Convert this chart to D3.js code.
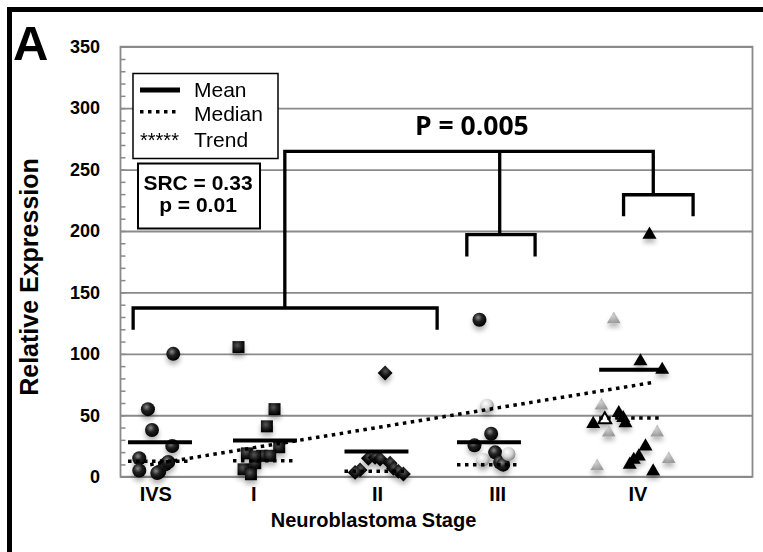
<!DOCTYPE html>
<html>
<head>
<meta charset="utf-8">
<script src="https://cdn.jsdelivr.net/npm/d3@7"></script>
<style>
  body { margin: 0; background: #fff; }
  svg { display: block; }
</style>
</head>
<body>
<svg id="chart"></svg>
<script>
// stage names and where they sit on the x axis (0-100 units)
const stages = ["IVS", "I", "II", "III", "IV"];
const stagePos = [5.5, 21.0, 40.6, 59.6, 81.8];

// points: [offset from stage position, relative expression]
const ivsPts = [[2.85, 100], [-1.16, 55], [-0.52, 38], [2.69, 25], [-2.53, 15], [-2.53, 5], [0.63, 4], [1.58, 10], [2.06, 12], [0.32, 3]];
const stageIPts = [[-2.33, 105.5], [3.37, 55], [2.17, 41], [4.11, 24], [-1.0, 19], [1.38, 17], [2.69, 17], [0.32, 11], [-1.53, 6], [-0.36, 2], [0.32, 16.5]];
const stageIIPts = [[1.27, 84.4], [-2.69, 5.5], [-3.48, 3.5], [-1.38, 15], [-0.32, 15.7], [0.47, 14.4], [2.06, 11], [2.58, 6.8], [3.37, 4.3], [4.16, 2.2]];
const stageIIIBlack = [[-2.8, 127.8], [-0.95, 35], [-3.59, 25.5], [-0.32, 19.8], [0.47, 11.6], [0.95, 9.8]];
const stageIIIWhite = [[-1.63, 57.8], [1.79, 18.5], [-2.26, 13.8]];
const stageIVBlack = [[1.9, 197], [0.47, 94], [3.91, 87], [-2.96, 51.8], [-7.0, 43], [-1.9, 43.6], [-2.26, 47.8], [1.27, 24.7], [0.21, 16.5], [-0.59, 13.8], [-1.22, 9.8], [2.48, 4.3]];
const stageIVGray = [[-3.75, 128], [-5.7, 57.8], [-4.54, 36], [3.12, 36], [4.95, 14.4], [-6.38, 8.4]];
const stageIVOpen = [[-5.17, 46.4]];

// mean / median per stage
const meanVals = [28, 29.5, 20.6, 28, 87];
const medianVals = [12.5, 13, 4.4, 9.8, 47.8];
const summaryOffset = [0.75, 1.86, -0.1, -1.3, -1.0];
const summaryHalf = 5.06;

// trend line [x, value]
const trendPts = [[4.7, 9.8], [84.6, 77]];

// significance brackets in data units
const brackets = [
  [[2.0, 119.6], [2.0, 137.3], [50.1, 137.3], [50.1, 119.6]],
  [[54.8, 179.3], [54.8, 197], [65.6, 197], [65.6, 179.3]],
  [[79.6, 211.9], [79.6, 229.5], [90.6, 229.5], [90.6, 211.9]],
  [[26.0, 137.3], [26.0, 264.8], [84.3, 264.8], [84.3, 229.5]],
  [[60.0, 264.8], [60.0, 197]]
];
const pLabel = [55.6, 278];

const yMajor = [0, 50, 100, 150, 200, 250, 300, 350];

const W = 763, H = 552;
const svg = d3.select("#chart").attr("width", W).attr("height", H);

const x = d3.scaleLinear().domain([0, 100]).range([120.5, 752.5]);
const y = d3.scaleLinear().domain([0, 350]).range([476.7, 46.7]);

const defs = svg.append("defs");
const sh = defs.append("filter").attr("id", "shadow")
  .attr("x", "-60%").attr("y", "-60%").attr("width", "220%").attr("height", "260%");
sh.append("feGaussianBlur").attr("in", "SourceAlpha").attr("stdDeviation", 2.5);
sh.append("feOffset").attr("dy", 4).attr("result", "b");
sh.append("feComponentTransfer").append("feFuncA").attr("type", "linear").attr("slope", 0.3);
const mg = sh.append("feMerge");
mg.append("feMergeNode");
mg.append("feMergeNode").attr("in", "SourceGraphic");

function radial(id, stops) {
  const g = defs.append("radialGradient").attr("id", id)
    .attr("cx", "40%").attr("cy", "35%").attr("r", "65%");
  stops.forEach(s => g.append("stop").attr("offset", s[0]).attr("stop-color", s[1]));
}
radial("gBlack", [[0, "#8a8a8a"], [0.45, "#222"], [1, "#000"]]);
radial("gWhite", [[0, "#ffffff"], [0.55, "#d8d8d8"], [1, "#8a8a8a"]]);
radial("gGray", [[0, "#d0d0d0"], [1, "#9a9a9a"]]);
radial("gSquare", [[0, "#555"], [0.6, "#1a1a1a"], [1, "#000"]]);

// outer frame (top and left)
svg.append("path")
  .attr("d", `M9.5,${H} V9.5 H${W}`)
  .attr("fill", "none").attr("stroke", "#000").attr("stroke-width", 5);

// gridlines
svg.append("g")
  .attr("transform", `translate(${x(0)},0)`)
  .call(d3.axisLeft(y).tickValues(yMajor).tickSize(-(x(100) - x(0))).tickFormat(""))
  .call(g => g.select(".domain").remove())
  .call(g => g.selectAll("line").attr("stroke", "#8a8a8a").attr("stroke-width", 1.8));

// plot border
svg.append("rect")
  .attr("x", x(0)).attr("y", y(350))
  .attr("width", x(100) - x(0)).attr("height", y(0) - y(350))
  .attr("fill", "none").attr("stroke", "#8a8a8a").attr("stroke-width", 1.8);

// minor ticks
svg.append("g")
  .attr("transform", `translate(${x(0)},0)`)
  .call(d3.axisLeft(y).tickValues(d3.range(0, 351, 10)).tickSize(-5).tickFormat(""))
  .call(g => g.select(".domain").remove())
  .call(g => g.selectAll("line").attr("stroke", "#8a8a8a").attr("stroke-width", 1.5));

// y tick labels
svg.append("g")
  .attr("transform", `translate(${x(0)},0)`)
  .call(d3.axisLeft(y).tickValues(yMajor).tickSize(0).tickPadding(20.5))
  .call(g => g.select(".domain").remove())
  .call(g => g.selectAll("text")
    .attr("font-family", "Liberation Sans, Arial, sans-serif")
    .attr("font-weight", "bold").attr("font-size", 18).attr("fill", "#000"));

// x tick labels
svg.append("g")
  .attr("transform", `translate(0,${y(0)})`)
  .call(d3.axisBottom(x).tickValues(stagePos).tickSize(0).tickPadding(10)
    .tickFormat((d, i) => stages[i]))
  .call(g => g.select(".domain").remove())
  .call(g => g.selectAll("text")
    .attr("font-family", "Liberation Sans, Arial, sans-serif")
    .attr("font-weight", "bold").attr("font-size", 20).attr("fill", "#000"));

// axis titles
svg.append("text")
  .attr("x", 373.5).attr("y", 527).attr("text-anchor", "middle")
  .attr("font-family", "Liberation Sans, Arial, sans-serif")
  .attr("font-weight", "bold").attr("font-size", 20)
  .text("Neuroblastoma Stage");

svg.append("text")
  .attr("transform", "translate(38,277) rotate(-90)").attr("text-anchor", "middle")
  .attr("font-family", "Liberation Sans, Arial, sans-serif")
  .attr("font-weight", "bold").attr("font-size", 25)
  .text("Relative Expression");

svg.append("text")
  .attr("x", 13).attr("y", 60)
  .attr("font-family", "Liberation Sans, Arial, sans-serif")
  .attr("font-weight", "bold").attr("font-size", 49)
  .text("A");

// points
const pts = svg.append("g").attr("filter", "url(#shadow)");
const px = (si, d) => x(stagePos[si] + d[0]);

function circles(si, data, fill) {
  pts.selectAll(null).data(data).enter().append("circle")
    .attr("cx", d => px(si, d)).attr("cy", d => y(d[1])).attr("r", 7)
    .attr("fill", fill);
}
function symbols(si, data, type, size, fill, stroke, rot) {
  pts.selectAll(null).data(data).enter().append("path")
    .attr("d", d3.symbol().type(type).size(size))
    .attr("transform", d => `translate(${px(si, d)},${y(d[1])}) rotate(${rot || 0})`)
    .attr("fill", fill)
    .attr("stroke", stroke || "none").attr("stroke-width", stroke ? 2 : 0);
}

circles(0, ivsPts, "url(#gBlack)");
symbols(1, stageIPts, d3.symbolSquare, 144, "url(#gSquare)");
symbols(2, stageIIPts, d3.symbolSquare, 110, "url(#gSquare)", null, 45);
circles(3, stageIIIBlack, "url(#gBlack)");
circles(3, stageIIIWhite, "url(#gWhite)");
symbols(4, stageIVGray, d3.symbolTriangle, 80, "url(#gGray)");
symbols(4, stageIVBlack, d3.symbolTriangle, 85, "#000");
symbols(4, stageIVOpen, d3.symbolTriangle, 70, "#fff", "#000");

// mean and median lines
const sumG = svg.append("g");
sumG.selectAll(null).data(meanVals).enter().append("line")
  .attr("x1", (d, i) => x(stagePos[i] + summaryOffset[i] - summaryHalf))
  .attr("x2", (d, i) => x(stagePos[i] + summaryOffset[i] + summaryHalf))
  .attr("y1", d => y(d)).attr("y2", d => y(d))
  .attr("stroke", "#000").attr("stroke-width", 4);
sumG.selectAll(null).data(medianVals).enter().append("line")
  .attr("x1", (d, i) => x(stagePos[i] + summaryOffset[i] - summaryHalf))
  .attr("x2", (d, i) => x(stagePos[i] + summaryOffset[i] + summaryHalf))
  .attr("y1", d => y(d)).attr("y2", d => y(d))
  .attr("stroke", "#000").attr("stroke-width", 3.5).attr("stroke-dasharray", "3.5,4.5");

// trend
svg.append("path")
  .attr("d", d3.line().x(d => x(d[0])).y(d => y(d[1]))(trendPts))
  .attr("fill", "none").attr("stroke", "#000").attr("stroke-width", 3.5)
  .attr("stroke-dasharray", "3.5,4.5");

// brackets
svg.append("g").selectAll("path").data(brackets).enter().append("path")
  .attr("d", d3.line().x(d => x(d[0])).y(d => y(d[1])))
  .attr("fill", "none").attr("stroke", "#000").attr("stroke-width", 3.3);

svg.append("text")
  .attr("x", x(pLabel[0])).attr("y", y(pLabel[1])).attr("text-anchor", "middle")
  .attr("font-family", "Open Sans, sans-serif").attr("font-weight", "bold")
  .attr("font-size", 26.5).text("P = 0.005");

// legend
const lg = svg.append("g").attr("font-family", "Liberation Sans, Arial, sans-serif");
lg.append("rect").attr("x", 133).attr("y", 73.5).attr("width", 145).attr("height", 85)
  .attr("fill", "#fff").attr("stroke", "#000").attr("stroke-width", 1.5);
lg.append("line").attr("x1", 140).attr("x2", 180).attr("y1", 90).attr("y2", 90)
  .attr("stroke", "#000").attr("stroke-width", 5);
lg.append("line").attr("x1", 140).attr("x2", 180).attr("y1", 111.7).attr("y2", 111.7)
  .attr("stroke", "#000").attr("stroke-width", 3.5).attr("stroke-dasharray", "3.5,4.5");
lg.append("text").attr("x", 140).attr("y", 147).attr("font-size", 20).text("*****");
[["Mean", 97], ["Median", 121], ["Trend", 147]].forEach(t =>
  lg.append("text").attr("x", 194).attr("y", t[1]).attr("font-size", 21).text(t[0]));

// SRC box
const sb = svg.append("g").attr("font-family", "Liberation Sans, Arial, sans-serif")
  .attr("font-weight", "bold").attr("font-size", 21).attr("text-anchor", "middle");
sb.append("rect").attr("x", 138).attr("y", 163.5).attr("width", 122).attr("height", 65)
  .attr("fill", "#fff").attr("stroke", "#000").attr("stroke-width", 2);
sb.append("text").attr("x", 198).attr("y", 190).text("SRC = 0.33");
sb.append("text").attr("x", 198).attr("y", 212).text("p = 0.01");
</script>
</body>
</html>
